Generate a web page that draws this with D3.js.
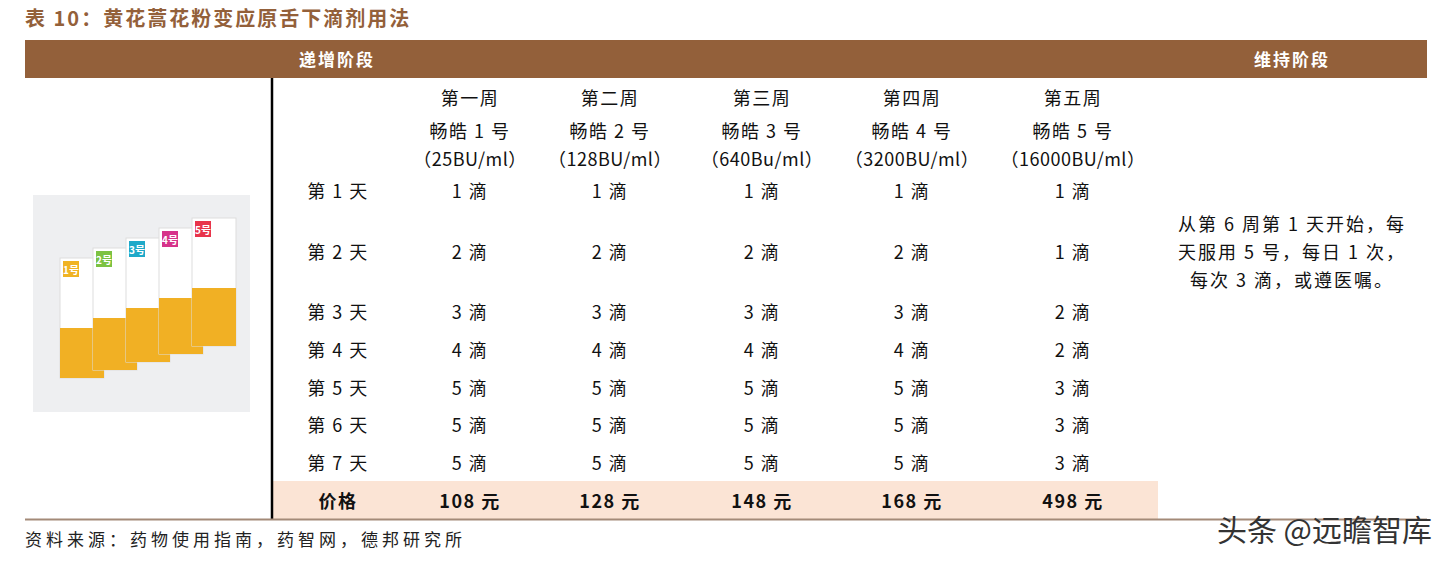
<!DOCTYPE html>
<html><head><meta charset="utf-8">
<script src="https://cdn.jsdelivr.net/npm/d3@7"></script>
<style>body{margin:0;background:#fff}text{font-family:"Noto Sans CJK SC",sans-serif}</style>
</head><body><svg id="c" width="1451" height="567"></svg>
<script>
const title = "表 10：黄花蒿花粉变应原舌下滴剂用法";
const weeks = ["第一周","第二周","第三周","第四周","第五周"];
const products = ["畅皓 1 号","畅皓 2 号","畅皓 3 号","畅皓 4 号","畅皓 5 号"];
const strengths = ["（25BU/ml）","（128BU/ml）","（640Bu/ml）","（3200BU/ml）","（16000BU/ml）"];
const days = ["第 1 天","第 2 天","第 3 天","第 4 天","第 5 天","第 6 天","第 7 天"];
const drops = [[1,1,1,1,1],[2,2,2,2,1],[3,3,3,3,2],[4,4,4,4,2],[5,5,5,5,3],[5,5,5,5,3],[5,5,5,5,3]];
const prices = [108,128,148,168,498];
const maintenance = ["从第 6 周第 1 天开始，每","天服用 5 号，每日 1 次，","每次 3 滴，或遵医嘱。"];
const source = "资料来源：药物使用指南，药智网，德邦研究所";

const svg = d3.select("#c");
const brown = "#93603a";
const x = d3.scaleOrdinal().domain([0,1,2,3,4]).range([470,610,762,912,1073]);
const rowY = d3.scaleOrdinal().domain(d3.range(7)).range([190,251,311,349,387,424,462]);

svg.append("text").attr("x",25).attr("y",26).attr("font-size",20).attr("letter-spacing",2).attr("font-weight","bold").attr("fill",brown).text(title);
svg.append("rect").attr("x",25).attr("y",40).attr("width",1402).attr("height",38).attr("fill",brown);
svg.append("text").attr("x",337).attr("y",66).attr("text-anchor","middle").attr("font-size",17).attr("letter-spacing",2).attr("font-weight","bold").attr("fill","#fff").text("递增阶段");
svg.append("text").attr("x",1292).attr("y",66).attr("text-anchor","middle").attr("font-size",17).attr("letter-spacing",2).attr("font-weight","bold").attr("fill","#fff").text("维持阶段");

svg.append("rect").attr("x",272).attr("y",481).attr("width",886).attr("height",38).attr("fill","#fbe4d5");
svg.append("line").attr("x1",272).attr("x2",272).attr("y1",78).attr("y2",519).attr("stroke","#000").attr("stroke-width",2.5);
svg.append("line").attr("x1",25).attr("x2",1427).attr("y1",519.5).attr("y2",519.5).attr("stroke","#a38a78").attr("stroke-width",2);

const ph = svg.append("g");
ph.append("rect").attr("x",33).attr("y",195).attr("width",217).attr("height",217).attr("fill","#eeeff1");
const boxCols = ["#f0b323","#7cc242","#1fa9c9","#d6338a","#e8344b"];
boxCols.forEach((c,i)=>{
  const bx = 60+i*33, by = 258-i*10;
  ph.append("rect").attr("x",bx).attr("y",by).attr("width",44).attr("height",120+i*2).attr("fill","#fff").attr("stroke","#ddd");
  ph.append("rect").attr("x",bx).attr("y",by+70).attr("width",44).attr("height",50+i*2).attr("fill","#f1b024");
  ph.append("rect").attr("x",bx+3).attr("y",by+3).attr("width",16).attr("height",16).attr("fill",c);
  ph.append("text").attr("x",bx+11).attr("y",by+16).attr("text-anchor","middle").attr("font-size",10).attr("font-weight","bold").attr("fill","#fff").text((i+1)+"号");
});

const fs = 18;
function t(xp,yp,s,opt={}){
  svg.append("text").attr("x",xp).attr("y",yp).attr("text-anchor","middle").attr("dominant-baseline","central")
    .attr("font-size",opt.fs||fs).attr("letter-spacing",opt.ls==null?1.5:opt.ls).attr("font-weight",opt.bold?"bold":"normal").attr("fill","#111").text(s);
}
weeks.forEach((w,i)=>t(x(i),97,w));
products.forEach((w,i)=>t(x(i),130,w));
strengths.forEach((w,i)=>t(x(i),158,w,{ls:0.5}));
days.forEach((d,r)=>{
  t(338,rowY(r),d);
  drops[r].forEach((v,i)=>t(x(i),rowY(r),v+" 滴"));
});
t(338,500,"价格",{bold:true});
prices.forEach((p,i)=>t(x(i),500,p+" 元",{bold:true}));
maintenance.forEach((m,i)=>t(1292,223+i*28,m,{ls:2}));

svg.append("text").attr("x",25).attr("y",546).attr("font-size",17).attr("letter-spacing",4).attr("fill","#222").text(source);
svg.append("text").attr("x",1432).attr("y",541).attr("text-anchor","end").attr("font-size",30).attr("fill","#333").text("头条 @远瞻智库");
</script></body></html>
